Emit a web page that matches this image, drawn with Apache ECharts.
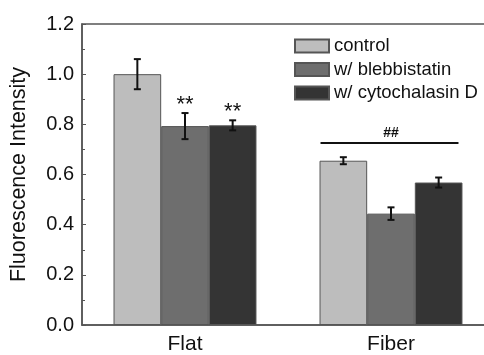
<!DOCTYPE html>
<html>
<head>
<meta charset="utf-8">
<script src="https://cdn.jsdelivr.net/npm/echarts@6/dist/echarts.min.js"></script>
<style>html,body{margin:0;padding:0;background:#fff;overflow:hidden;width:484px;height:355px;}#wrap{width:484px;height:355px;overflow:hidden;position:relative;}#c{width:496px;height:355px;position:absolute;left:0;top:0;}</style>
</head>
<body>
<div id="wrap"><div id="c"></div></div>
<script>
var categories = ['Flat', 'Fiber'];
var seriesNames = ['control', 'w/ blebbistatin', 'w/ cytochalasin D'];
var controlVals = [1.00, 0.655];
var blebVals = [0.793, 0.444];
var cytoVals = [0.796, 0.568];
var controlErr = [0.060, 0.014];
var blebErr = [0.052, 0.025];
var cytoErr = [0.020, 0.020];
var yTicks = [0, 0.2, 0.4, 0.6, 0.8, 1.0, 1.2];
var yTitle = 'Fluorescence Intensity';
// significance marks: [categoryIndex, seriesIndex, text]
var starMarks = [[0, 1, '**'], [0, 2, '**']];
// group bracket: [categoryIndex, level, text]
var groupMarks = [[1, 0.726, '##']];

var colors = ['#bdbdbd', '#6e6e6e', '#343434'];
var allVals = [controlVals, blebVals, cytoVals];
var allErr = [controlErr, blebErr, cytoErr];
var GAP = 0.306;
var FONT = '"Liberation Sans", Arial, sans-serif';

function barOffset(api, si) {
  var band = api.size([1, 0])[0];
  var bw = band * (1 - GAP) / 3;
  return { bw: bw, off: (si - 1) * bw };
}

var series = [];
for (var s = 0; s < 3; s++) {
  series.push({
    name: seriesNames[s], type: 'bar', data: allVals[s],
    barGap: '0%', barCategoryGap: (GAP * 100) + '%',
    itemStyle: { color: colors[s], borderColor: '#555555', borderWidth: 1 },
    z: 2
  });
}
// error bars
var errData = [];
for (var s2 = 0; s2 < 3; s2++) {
  for (var c = 0; c < categories.length; c++) {
    errData.push([c, allVals[s2][c], allErr[s2][c], s2]);
  }
}
series.push({
  type: 'custom', data: errData, z: 5, silent: true,
  encode: { x: 0, y: 1 },
  renderItem: function (params, api) {
    var ci = api.value(0), v = api.value(1), e = api.value(2), si = api.value(3);
    var o = barOffset(api, si);
    var top = api.coord([ci, v + e]);
    var bot = api.coord([ci, v - e]);
    var x = top[0] + o.off;
    var cap = 3.5;
    var st = { stroke: '#111', lineWidth: 2 };
    return { type: 'group', children: [
      { type: 'line', shape: { x1: x, y1: top[1], x2: x, y2: bot[1] }, style: st },
      { type: 'line', shape: { x1: x - cap, y1: top[1], x2: x + cap, y2: top[1] }, style: st },
      { type: 'line', shape: { x1: x - cap, y1: bot[1], x2: x + cap, y2: bot[1] }, style: st }
    ]};
  }
});
// star marks
var starData = starMarks.map(function (m) {
  return [m[0], allVals[m[1]][m[0]] + allErr[m[1]][m[0]], m[1]];
});
series.push({
  type: 'custom', data: starData, z: 6, silent: true,
  encode: { x: 0, y: 1 },
  renderItem: function (params, api) {
    var ci = api.value(0), v = api.value(1), si = api.value(2);
    var o = barOffset(api, si);
    var p = api.coord([ci, v]);
    return { type: 'text', style: { x: p[0] + o.off, y: p[1] + 3, text: starMarks[params.dataIndex][2],
      fill: '#111', font: '22px ' + FONT, textAlign: 'center', textVerticalAlign: 'bottom' } };
  }
});
// group bracket
series.push({
  type: 'custom', data: groupMarks.map(function (g) { return [g[0], g[1]]; }), z: 6, silent: true,
  encode: { x: 0, y: 1 },
  renderItem: function (params, api) {
    var ci = api.value(0), lv = api.value(1);
    var o0 = barOffset(api, 0), o2 = barOffset(api, 2);
    var p = api.coord([ci, lv]);
    var x1 = p[0] + o0.off - o0.bw / 2 + 1;
    var x2 = p[0] + o2.off + o2.bw / 2 - 4;
    return { type: 'group', children: [
      { type: 'line', shape: { x1: x1, y1: p[1], x2: x2, y2: p[1] }, style: { stroke: '#111', lineWidth: 2 } },
      { type: 'text', style: { x: p[0], y: p[1] - 3, text: groupMarks[params.dataIndex][2], fill: '#111',
        font: 'bold 14px ' + FONT, textAlign: 'center', textVerticalAlign: 'bottom' } }
    ]};
  }
});

var chart = echarts.init(document.getElementById('c'), null, { width: 496, height: 355 });
chart.setOption({
  animation: false,
  backgroundColor: '#fff',
  grid: { left: 80, top: 24, right: 2, bottom: 25, show: true, borderColor: '#555', borderWidth: 1.5, containLabel: false },
  legend: {
    data: seriesNames, orient: 'vertical', left: 289, top: 31,
    icon: 'rect', itemWidth: 34, itemHeight: 13, itemGap: 3.5,
    textStyle: { fontSize: 18.5, fontFamily: FONT, color: '#111', lineHeight: 20 },
    selectedMode: false
  },
  xAxis: {
    type: 'category', data: categories,
    axisLine: { lineStyle: { color: '#555', width: 1.5 } },
    axisTick: { show: false },
    axisLabel: { fontSize: 21, color: '#111', fontFamily: FONT, margin: 9 }
  },
  yAxis: {
    type: 'value', min: yTicks[0], max: yTicks[yTicks.length - 1], interval: 0.2,
    name: yTitle, nameLocation: 'middle', nameGap: 52, nameRotate: 90,
    nameTextStyle: { fontSize: 21.5, color: '#111', fontFamily: FONT },
    axisLine: { show: true, lineStyle: { color: '#555', width: 1.5 } },
    axisTick: { show: true, inside: true, length: 4, lineStyle: { color: '#555' } },
    minorTick: { show: true, splitNumber: 2, length: 3, lineStyle: { color: '#555' } },
    splitLine: { show: false },
    axisLabel: { fontSize: 20, color: '#111', margin: 8, fontFamily: FONT,
      formatter: function (v) { return v.toFixed(1); } }
  },
  series: series
});
</script>
</body>
</html>
